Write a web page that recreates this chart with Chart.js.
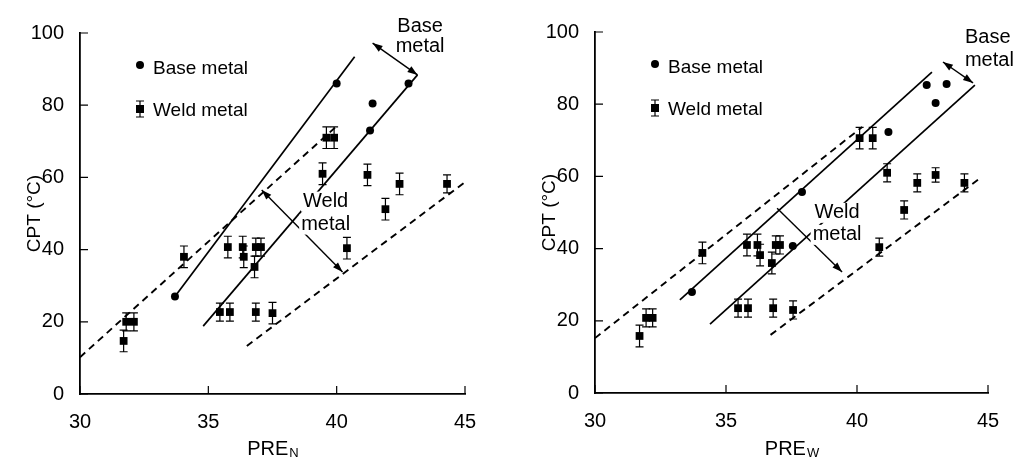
<!DOCTYPE html>
<html>
<head>
<meta charset="utf-8">
<title>CPT vs PRE</title>
<script src="https://cdn.jsdelivr.net/npm/chart.js@4.4.1/dist/chart.umd.min.js"></script>
<style>
  body { margin: 0; background: #fff; }
  #wrap { display: flex; width: 1016px; height: 457px; }
  canvas { display: block; }
</style>
</head>
<body>
<div id="wrap">
  <canvas id="chartN" width="508" height="457"></canvas>
  <canvas id="chartW" width="508" height="457"></canvas>
</div>
<script>
const FONT = '"Liberation Sans", Arial, Helvetica, sans-serif';

// tick values shared by both panels
const xTicks = [30, 35, 40, 45];
const yTicks = [0, 20, 40, 60, 80, 100];

// CPT against PRE_N
const baseN_x = [33.7, 40.0, 41.3, 41.4, 42.8];
const baseN_y = [27, 86, 73, 80.5, 86];
const weldN_x = [31.7, 31.8, 32.1, 34.05, 35.76, 36.34, 36.38, 36.8, 36.85, 37.05, 35.45, 35.84, 36.85, 37.5, 39.45, 39.6, 39.9, 40.4, 41.2, 41.9, 42.45, 44.3];
const weldN_y = [14.7, 20, 20, 38, 40.7, 40.7, 38, 35.2, 40.7, 40.7, 22.7, 22.7, 22.7, 22.4, 61, 71, 71, 40.4, 60.7, 51.2, 58.2, 58.2];
const weldN_err = [3, 2.5, 2.5, 3, 3, 3, 3, 3, 2.5, 2.5, 2.5, 2.5, 2.5, 3, 3, 3, 3, 3, 3, 3, 3, 2.5];
// scatter bands, [x1, y1, x2, y2]
const bandN_base = [[33.7, 27, 40.7, 93.4], [34.8, 18.8, 43.15, 88.4]];
const bandN_weld = [[30, 10.2, 40, 74.2], [36.5, 13.3, 45, 58.7]];

// CPT against PRE_W
const baseW_x = [33.7, 37.55, 37.9, 41.2, 42.66, 43.42, 43.0];
const baseW_y = [28, 40.7, 55.7, 72.3, 85.3, 85.6, 80.3];
const weldW_x = [31.7, 31.95, 32.2, 34.1, 35.8, 36.2, 36.3, 36.75, 36.9, 37.06, 35.46, 35.84, 36.8, 37.56, 40.1, 40.6, 41.15, 40.85, 41.8, 42.3, 43.0, 44.1];
const weldW_y = [15.8, 20.8, 20.8, 38.8, 41, 41, 38.2, 36, 41, 41, 23.5, 23.5, 23.5, 23, 70.6, 70.6, 61, 40.4, 50.7, 58.2, 60.4, 58.2];
const weldW_err = [3, 2.5, 2.5, 3, 3, 3, 3, 3, 2.5, 2.5, 2.5, 2.5, 2.5, 2.5, 3, 3, 2.5, 2.5, 2.5, 2.5, 2, 2.5];
const bandW_base = [[33.24, 25.8, 42.86, 88.9], [34.39, 19.1, 44.5, 85.3]];
const bandW_weld = [[30, 15.2, 40.2, 73.7], [36.7, 16.1, 44.75, 59.8]];

function arrowHead(ctx, x, y, fromX, fromY) {
  const a = Math.atan2(y - fromY, x - fromX);
  const len = 10, half = 3.5;
  ctx.beginPath();
  ctx.moveTo(x, y);
  ctx.lineTo(x - len * Math.cos(a) + half * Math.sin(a), y - len * Math.sin(a) - half * Math.cos(a));
  ctx.lineTo(x - len * Math.cos(a) - half * Math.sin(a), y - len * Math.sin(a) + half * Math.cos(a));
  ctx.closePath();
  ctx.fill();
}

function errorBar(ctx, cx, top, bot) {
  ctx.beginPath();
  ctx.moveTo(cx, top); ctx.lineTo(cx, bot);
  ctx.moveTo(cx - 4, top); ctx.lineTo(cx + 4, top);
  ctx.moveTo(cx - 4, bot); ctx.lineTo(cx + 4, bot);
  ctx.stroke();
}

// ticks, error bars, arrows, notes, legend and axis titles
function extras(cfg) {
  return {
    id: 'extras',
    afterDraw(chart) {
      const { ctx, chartArea: a, scales: { x, y } } = chart;
      const px = v => x.getPixelForValue(v);
      const py = v => y.getPixelForValue(v);
      ctx.save();
      ctx.strokeStyle = '#000';
      ctx.fillStyle = '#000';

      // inward tick marks
      ctx.lineWidth = 1.2;
      ctx.beginPath();
      xTicks.forEach(v => { ctx.moveTo(px(v), a.bottom); ctx.lineTo(px(v), a.bottom - 8); });
      yTicks.forEach(v => { ctx.moveTo(a.left, py(v)); ctx.lineTo(a.left + 8, py(v)); });
      ctx.stroke();

      // weld metal scatter
      chart.data.datasets[5].data.forEach(p => {
        errorBar(ctx, px(p.x), py(p.y + p.err), py(p.y - p.err));
      });

      // band width arrows
      ctx.lineWidth = 1.4;
      cfg.arrows.forEach(ar => {
        const x1 = px(ar.seg[0]), y1 = py(ar.seg[1]), x2 = px(ar.seg[2]), y2 = py(ar.seg[3]);
        ctx.beginPath(); ctx.moveTo(x1, y1); ctx.lineTo(x2, y2); ctx.stroke();
        if (ar.start) arrowHead(ctx, x1, y1, x2, y2);
        arrowHead(ctx, x2, y2, x1, y1);
      });

      // band names
      ctx.font = `20px ${FONT}`;
      ctx.textBaseline = 'middle';
      cfg.notes.forEach(n => {
        ctx.textAlign = n.align;
        n.lines.forEach((t, i) => {
          const tx = px(n.x), ty = py(n.y) + i * n.gap;
          const w = ctx.measureText(t).width;
          const left = n.align === 'center' ? tx - w / 2 : tx;
          ctx.fillStyle = '#fff';
          ctx.fillRect(left - 2, ty - 10, w + 4, 20);
          ctx.fillStyle = '#000';
          ctx.fillText(t, tx, ty);
        });
      });

      // legend
      const lx = a.left + 60, ly = a.top + 32, gap = 44;
      ctx.beginPath(); ctx.arc(lx, ly, 4, 0, Math.PI * 2); ctx.fill();
      ctx.fillRect(lx - 4, ly + gap - 4, 8, 8);
      ctx.lineWidth = 1.2;
      errorBar(ctx, lx, ly + gap - 8, ly + gap + 8);
      ctx.font = `19px ${FONT}`;
      ctx.textAlign = 'left';
      ctx.fillText('Base metal', lx + 13, ly + 4);
      ctx.fillText('Weld metal', lx + 13, ly + gap + 2);

      // axis titles
      ctx.font = `19px ${FONT}`;
      ctx.textAlign = 'center';
      ctx.save();
      ctx.translate(a.left - cfg.yTitleGap, (a.top + a.bottom) / 2);
      ctx.rotate(-Math.PI / 2);
      ctx.fillText('CPT (°C)', 0, 0);
      ctx.restore();

      ctx.font = `20px ${FONT}`;
      ctx.textAlign = 'left';
      ctx.textBaseline = 'alphabetic';
      const w1 = ctx.measureText('PRE').width;
      ctx.font = `13px ${FONT}`;
      const w2 = ctx.measureText(cfg.sub).width;
      const sx = (a.left + a.right) / 2 - (w1 + w2) / 2;
      ctx.font = `20px ${FONT}`;
      ctx.fillText('PRE', sx, 455);
      ctx.font = `13px ${FONT}`;
      ctx.fillText(cfg.sub, sx + w1 + 1, 457);
      ctx.restore();
    }
  };
}

function makePanel(id, cfg) {
  const band = (seg, dashed) => ({
    data: [{ x: seg[0], y: seg[1] }, { x: seg[2], y: seg[3] }],
    showLine: true,
    borderColor: '#000',
    borderWidth: dashed ? 1.9 : 1.7,
    borderDash: dashed ? [7, 5] : [],
    pointRadius: 0
  });
  const tickFont = { family: FONT, size: 20 };
  return new Chart(document.getElementById(id), {
    type: 'scatter',
    data: {
      datasets: [
        band(cfg.baseBand[0], false),
        band(cfg.baseBand[1], false),
        band(cfg.weldBand[0], true),
        band(cfg.weldBand[1], true),
        {
          label: 'Base metal',
          data: cfg.baseX.map((x, i) => ({ x, y: cfg.baseY[i] })),
          pointStyle: 'circle', pointRadius: 4,
          backgroundColor: '#000', borderWidth: 0
        },
        {
          label: 'Weld metal',
          data: cfg.weldX.map((x, i) => ({ x, y: cfg.weldY[i], err: cfg.weldErr[i] })),
          pointStyle: 'rect', pointRadius: 5.5,
          backgroundColor: '#000', borderWidth: 0
        }
      ]
    },
    options: {
      responsive: false,
      animation: false,
      layout: { padding: { left: 0, right: cfg.padRight, top: cfg.padTop, bottom: 0 } },
      plugins: { legend: { display: false }, tooltip: { enabled: false } },
      scales: {
        x: {
          type: 'linear', min: xTicks[0], max: xTicks[xTicks.length - 1],
          afterFit: s => { s.height = cfg.xHeight; },
          ticks: { stepSize: 5, font: tickFont, color: '#000', padding: 8, maxRotation: 0 },
          grid: { display: false },
          border: { color: '#000', width: 1.8 }
        },
        y: {
          type: 'linear', min: yTicks[0], max: yTicks[yTicks.length - 1],
          afterFit: s => { s.width = cfg.yWidth; },
          ticks: { stepSize: 20, font: tickFont, color: '#000', padding: 8 },
          grid: { display: false },
          border: { color: '#000', width: 1.8 }
        }
      }
    },
    plugins: [extras(cfg)]
  });
}

makePanel('chartN', {
  sub: 'N',
  baseX: baseN_x, baseY: baseN_y,
  weldX: weldN_x, weldY: weldN_y, weldErr: weldN_err,
  baseBand: bandN_base, weldBand: bandN_weld,
  yWidth: 80, padRight: 43, padTop: 33, xHeight: 63, yTitleGap: 45,
  arrows: [
    { seg: [41.4, 97.2, 43.15, 88.4], start: true },
    { seg: [37.08, 56.5, 40.23, 33.8], start: true }
  ],
  notes: [
    { lines: ['Base', 'metal'], x: 43.25, y: 101.9, gap: 20, align: 'center' },
    { lines: ['Weld', 'metal'], x: 39.57, y: 53.3, gap: 23, align: 'center' }
  ]
});

makePanel('chartW', {
  sub: 'W',
  baseX: baseW_x, baseY: baseW_y,
  weldX: weldW_x, weldY: weldW_y, weldErr: weldW_err,
  baseBand: bandW_base, weldBand: bandW_weld,
  yWidth: 87, padRight: 28, padTop: 32, xHeight: 64, yTitleGap: 45,
  arrows: [
    { seg: [43.28, 91.7, 44.43, 85.9], start: true },
    { seg: [36.95, 51.2, 39.43, 33.5], start: false }
  ],
  notes: [
    { lines: ['Base', 'metal'], x: 44.12, y: 98.6, gap: 23, align: 'left' },
    { lines: ['Weld', 'metal'], x: 39.24, y: 49.9, gap: 22, align: 'center' }
  ]
});
</script>
</body>
</html>
